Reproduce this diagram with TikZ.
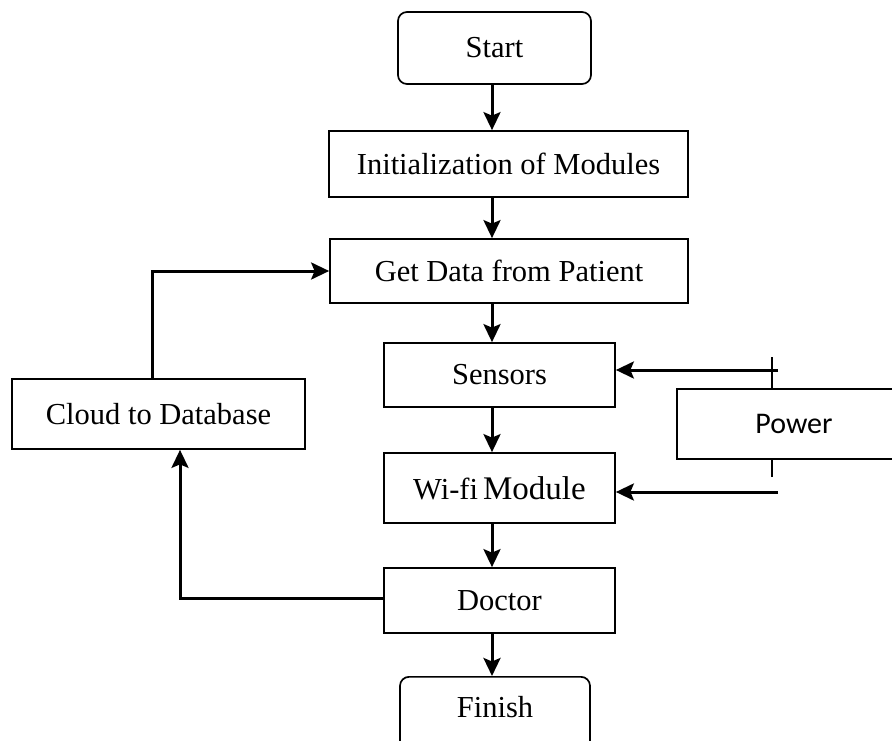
\documentclass[tikz,border=0pt]{standalone}
\usepackage{fontspec}
\setmainfont{Liberation Serif}
\newfontfamily\powerfont{Carlito}
\usetikzlibrary{arrows.meta}
\begin{document}
\begin{tikzpicture}[x=1pt,y=-1pt,
  box/.style={draw, line width=1.7pt, inner sep=0pt, font=\fontsize{30.5}{36}\selectfont},
  rbox/.style={box, rounded corners=9pt},
  flow/.style={line width=3pt, -{Stealth[length=18pt,width=17pt,inset=3.5pt]}},
  tick/.style={line width=1.8pt}]
\clip (0,0) rectangle (892,741);
\fill[white] (0,0) rectangle (892,741);
% main column
\node[rbox, minimum width=193pt, minimum height=72pt] (start) at (494.5,48) {Start};
\node[box, minimum width=359pt, minimum height=66pt] (init) at (508.5,164) {Initialization of Modules};
\node[box, minimum width=358pt, minimum height=64pt] (get) at (509,271) {Get Data from Patient};
\node[box, minimum width=231pt, minimum height=64pt] (sensors) at (499.5,375) {Sensors};
\node[box, minimum width=231pt, minimum height=70pt] (wifi) at (499.5,488) {Wi-fi\,\fontsize{33}{38}\selectfont Module};
\node[box, minimum width=231pt, minimum height=65pt] (doctor) at (499.5,600.5) {Doctor};
\node[rbox, minimum width=190pt, minimum height=84pt, anchor=north] (finish) at (495,676) {};
\node[font=\fontsize{30.5}{36}\selectfont, anchor=base, inner sep=0pt] (finishtext) at (495,717) {Finish};
% side boxes
\node[box, minimum width=293pt, minimum height=70pt] (cloud) at (158.5,414) {Cloud to Database};
\node[box, minimum width=234pt, minimum height=70pt, font=\powerfont\fontsize{30}{36}\selectfont] (power) at (794,424) {Power};
% axis for vertical arrows
\coordinate (axis) at (492,0);
\draw[flow] (start.south -| axis) -- (init.north -| axis);
\draw[flow] (init.south -| axis) -- (get.north -| axis);
\draw[flow] (get.south -| axis) -- (sensors.north -| axis);
\draw[flow] (sensors.south -| axis) -- (wifi.north -| axis);
\draw[flow] (wifi.south -| axis) -- (doctor.north -| axis);
\draw[flow] (doctor.south -| axis) -- (finish.north -| axis);
% loop back
\draw[flow] ([xshift=-6.5pt]cloud.north) |- (get.west);
\draw[flow] ([yshift=2.5pt]doctor.west) -| ([xshift=21.5pt]cloud.south);
% power feeds
\coordinate (ptop) at (772,357);
\coordinate (pbot) at (772,477);
\coordinate (pin1) at (778,370);
\coordinate (pin2) at (778,492);
\draw[tick] (ptop) -- (ptop |- power.north);
\draw[tick] (pbot) -- (pbot |- power.south);
\draw[flow] (pin1) -- (pin1 -| sensors.east);
\draw[flow] (pin2) -- (pin2 -| wifi.east);
\end{tikzpicture}
\end{document}
